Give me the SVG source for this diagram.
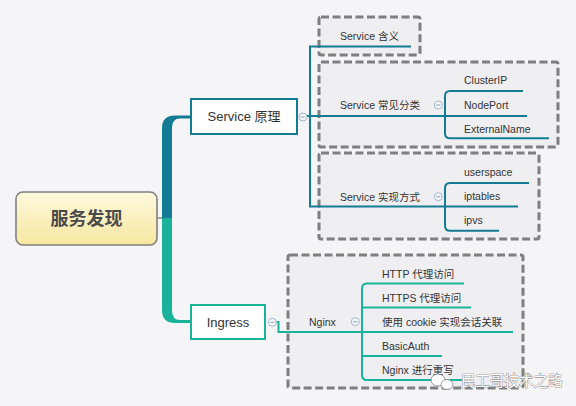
<svg xmlns="http://www.w3.org/2000/svg" width="576" height="406" viewBox="0 0 576 406">
<defs>
<linearGradient id="rootFill" x1="0" y1="0" x2="0" y2="1">
<stop offset="0" stop-color="#fdf9de"/>
<stop offset="1" stop-color="#f7e7a0"/>
</linearGradient>
<style>
.t{font-family:"Liberation Sans","Noto Sans CJK SC",sans-serif;fill:#333;font-size:10.5px}
.big{font-size:13px;text-anchor:middle}
.root{font-size:18px;font-weight:bold;fill:#4a4a4a;text-anchor:middle}
.box{fill:#efeff2;stroke:#7f7f7f;stroke-width:3;stroke-dasharray:8 3.5}
.c1{fill:none;stroke:#137b93;stroke-width:2}
.c2{fill:none;stroke:#19b39b;stroke-width:2}
.tog{fill:#f8f9fc;stroke:#a3b5cc;stroke-width:1}
.tm{stroke:#8aa0bb;stroke-width:1}
.wm{font-family:"Noto Sans CJK SC",sans-serif;font-size:14.5px;fill:#fff;stroke:#6a6a6a;stroke-width:0.7;paint-order:stroke}
</style>
<g id="toggle"><circle class="tog" cx="0" cy="0" r="4"/><line class="tm" x1="-2.2" y1="0" x2="2.2" y2="0"/></g>
</defs>
<rect width="576" height="406" fill="#f5f5f7"/>
<g id="boundaries">
<rect class="box" x="319" y="17" width="101" height="38" rx="2"/>
<rect class="box" x="319" y="62" width="239" height="85" rx="2"/>
<rect class="box" x="319" y="153" width="220" height="86" rx="2"/>
<rect class="box" x="288" y="255" width="235" height="133" rx="2"/>
</g>
<g id="connectors">
<line x1="157" y1="218" x2="163" y2="218" stroke="#888" stroke-width="1.5"/>
<path d="M162,219 V128 Q162,115.5 175,115.5 H191 V118.5 H180 Q172,118.5 172,128 V219 Z" fill="#137b93"/>
<path d="M162,218 V310 Q162,323 175,323 H191 V320 H180 Q172,320 172,310 V218 Z" fill="#19b39b"/>
<path class="c1" d="M307,116 H527"/>
<path class="c1" d="M411,46.5 H310 V206.5 H518"/>
<path class="c1" d="M523,91 H450 Q445,91 445,96 V133.3 Q445,138.3 450,138.3 H549"/>
<path class="c1" d="M529,183 H450 Q445,183 445,188 V225.7 Q445,230.7 450,230.7 H499"/>
<path class="c2" d="M276.3,322 H278.5 V332 H513"/>
<path class="c2" d="M464,283.5 H367 Q362,283.5 362,288.5 V375 Q362,380 367,380 H462"/>
<path class="c2" d="M362,307.5 H471 M362,356 H442"/>
</g>
<g id="root">
<rect x="16" y="192" width="141" height="53" rx="7" fill="url(#rootFill)" stroke="#808080" stroke-width="1.6"/>
<text class="t root" x="86.5" y="225">服务发现</text>
</g>
<g id="service-principle">
<rect x="191" y="99" width="106" height="35" fill="#fff" stroke="#137b93" stroke-width="2"/>
<text class="t big" x="244" y="121">Service 原理</text>
<use href="#toggle" x="303" y="117"/>
</g>
<g id="ingress">
<rect x="191" y="305" width="74" height="34" fill="#fff" stroke="#19b39b" stroke-width="2"/>
<text class="t big" x="228" y="327">Ingress</text>
<use href="#toggle" x="272.3" y="322.3"/>
</g>
<g id="service-meaning"><text class="t" x="340" y="40">Service 含义</text></g>
<g id="service-types">
<text class="t" x="340" y="108.5">Service 常见分类</text>
<use href="#toggle" x="438.3" y="105"/>
</g>
<g id="clusterip"><text class="t" x="464" y="84">ClusterIP</text></g>
<g id="nodeport"><text class="t" x="464" y="108.5">NodePort</text></g>
<g id="externalname"><text class="t" x="464" y="132.5">ExternalName</text></g>
<g id="service-impl">
<text class="t" x="340" y="201">Service 实现方式</text>
<use href="#toggle" x="438.3" y="196.7"/>
</g>
<g id="userspace"><text class="t" x="464" y="176">userspace</text></g>
<g id="iptables"><text class="t" x="464" y="200">iptables</text></g>
<g id="ipvs"><text class="t" x="464" y="224">ipvs</text></g>
<g id="nginx">
<text class="t" x="309" y="326">Nginx</text>
<use href="#toggle" x="355.3" y="321.7"/>
</g>
<g id="http"><text class="t" x="382" y="278">HTTP 代理访问</text></g>
<g id="https"><text class="t" x="382" y="302">HTTPS 代理访问</text></g>
<g id="cookie"><text class="t" x="382" y="326">使用 cookie 实现会话关联</text></g>
<g id="basicauth"><text class="t" x="382" y="350">BasicAuth</text></g>
<g id="rewrite"><text class="t" x="382" y="374">Nginx 进行重写</text></g>
<g id="watermark">
<ellipse cx="438" cy="380" rx="7" ry="6" fill="#fff" stroke="#777" stroke-width="0.7"/>
<ellipse cx="447" cy="384.5" rx="6" ry="5" fill="#fff" stroke="#777" stroke-width="0.7"/>
<text class="wm" x="461" y="386">民工哥技术之路</text>
</g>
</svg>
